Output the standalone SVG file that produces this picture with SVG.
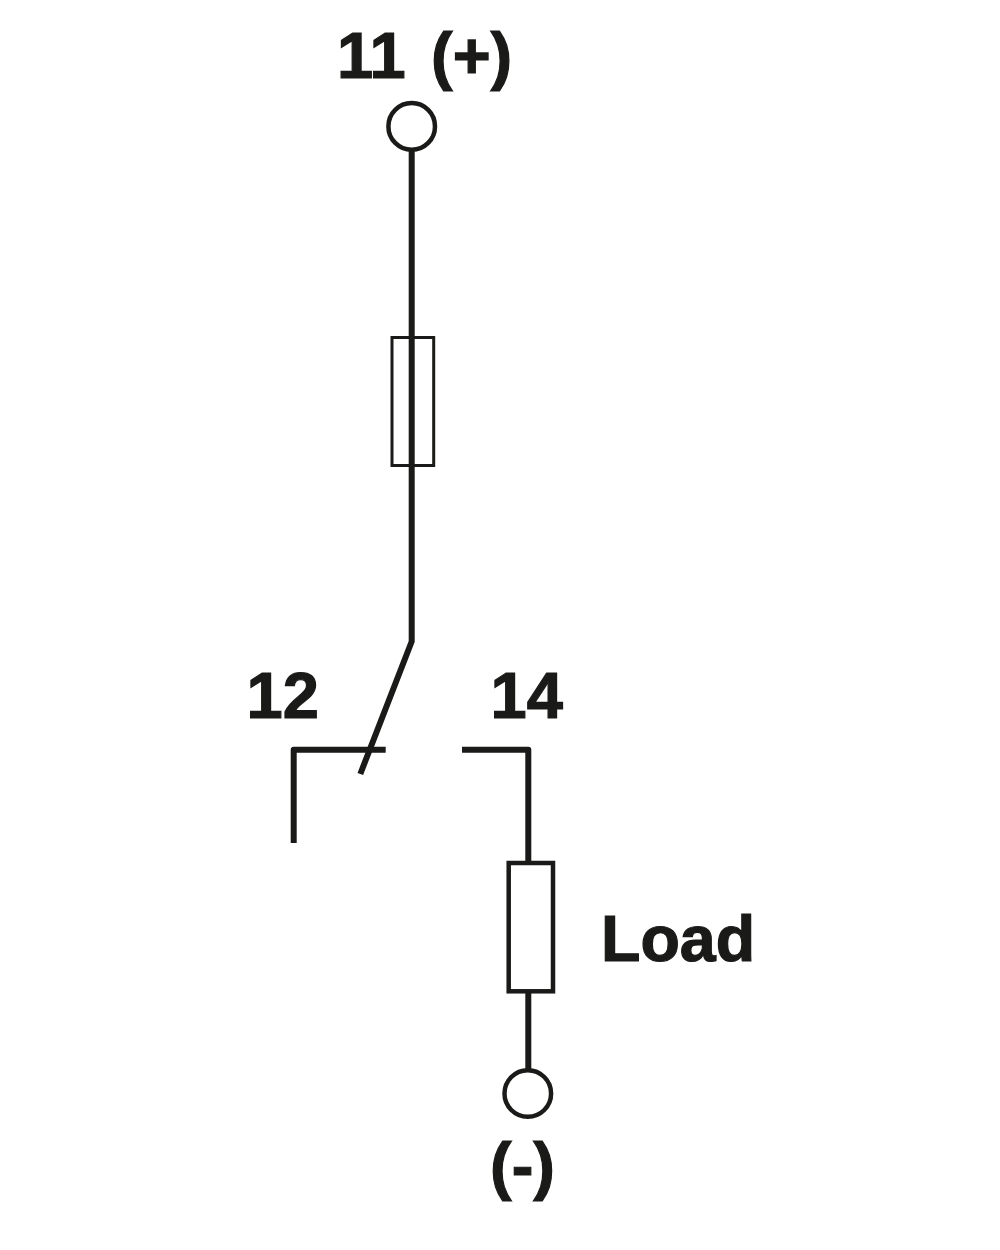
<svg xmlns="http://www.w3.org/2000/svg" width="1000" height="1250" viewBox="0 0 1000 1250">
<style>
.w{fill:none;stroke:#1a1a18;stroke-width:6;stroke-linejoin:round}
.b{fill:#fff;stroke:#1a1a18;stroke-width:4.500}
.t{font-family:"Liberation Sans",Arial,sans-serif;font-weight:700;font-size:65px;fill:#1a1a18;stroke:#1a1a18;stroke-width:1.200}
</style>
<rect width="1000" height="1250" fill="#fff"/>
<g id="connectors">
<path class="w" d="M411.700 150V641.500L360.300 774"/>
<path class="w" d="M293.700 843V749.700H385.700"/>
<path class="w" d="M462 749.700H528.300V863"/>
<path class="w" d="M528.300 991V1070"/>
</g>
<g id="terminal-11"><circle class="b" cx="411.700" cy="126.400" r="23.300"/><text class="t" y="78"><tspan x="337">11</tspan> <tspan x="431">(+)</tspan></text></g>
<g id="fuse"><rect x="392" y="337.500" width="41.700" height="128" fill="none" stroke="#1a1a18" stroke-width="3"/></g>
<g id="terminal-12"><text class="t" x="246.500" y="718">12</text></g>
<g id="terminal-14"><text class="t" x="490.500" y="718">14</text></g>
<g id="load"><rect class="b" x="508.700" y="863" width="44.300" height="128.300"/><text class="t" x="601" y="961" font-size="64.500" style="font-size:64.500px">Load</text></g>
<g id="terminal-minus"><circle class="b" cx="527.800" cy="1093.500" r="23.300"/><text class="t" x="490" y="1188">(-)</text></g>
</svg>
